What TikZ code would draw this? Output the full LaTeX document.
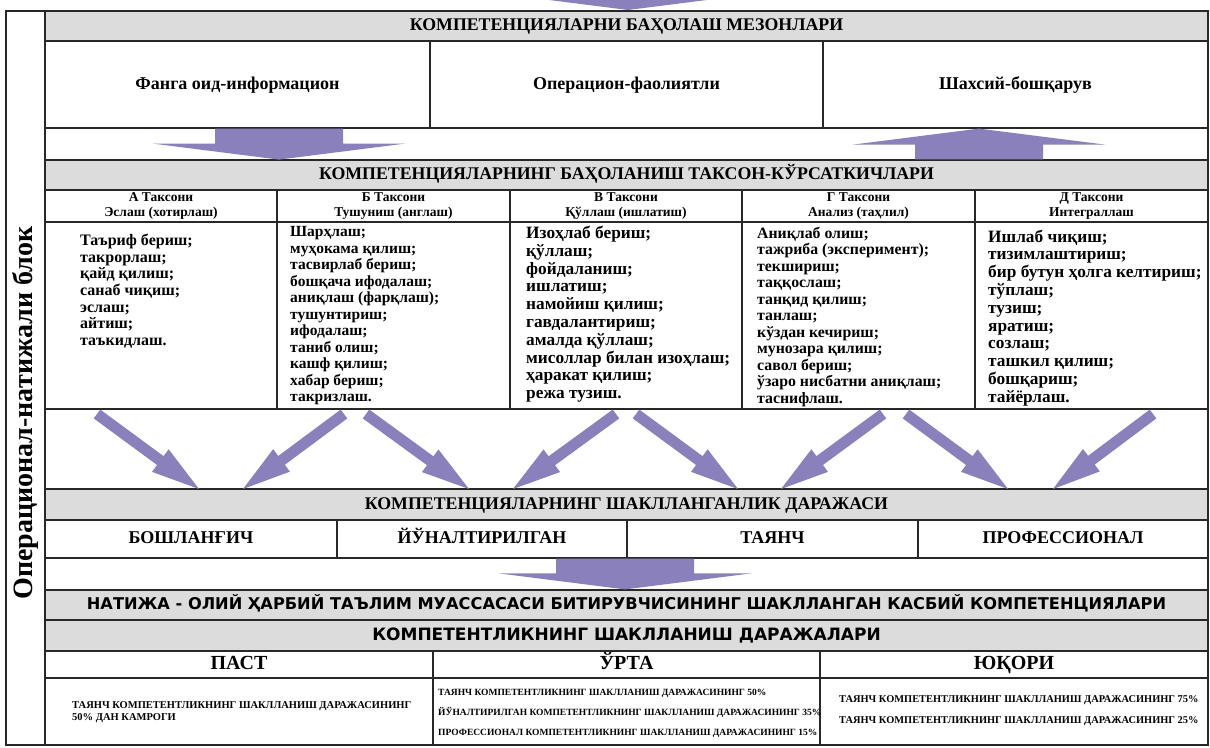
\documentclass[tikz,border=0pt]{standalone}
\usepackage{fontspec}
\setmainfont{Liberation Serif}
\newfontfamily\sansf{DejaVu Sans}
\usetikzlibrary{calc}
\definecolor{arr}{RGB}{138,128,187}
\definecolor{hdr}{RGB}{220,220,220}
\definecolor{ln}{RGB}{40,40,40}
\tikzset{
  cell/.style={draw=ln, line width=1.2pt, inner sep=0pt, outer sep=0pt, fill=white},
  graycell/.style={cell, fill=hdr},
  hfont/.style={font=\bfseries\fontsize{17.8}{20}\selectfont, text height=12.5pt, text depth=3.5pt},
  sfont/.style={font=\sansf\bfseries\fontsize{16.2}{18}\selectfont, text height=12pt, text depth=3pt},
  sfontb/.style={font=\sansf\bfseries\fontsize{17}{19}\selectfont, text height=12.5pt, text depth=3pt},
  critfont/.style={font=\bfseries\fontsize{18}{20}\selectfont, text height=12.5pt, text depth=3.5pt},
  taxfont/.style={font=\bfseries\fontsize{13.5}{14.5}\selectfont, align=center},
  lvlfont/.style={font=\bfseries\fontsize{18}{20}\selectfont, text height=12.5pt, text depth=3.5pt},
  resfont/.style={font=\bfseries\fontsize{20}{22}\selectfont, text height=14pt, text depth=4pt},
  listtxt/.style={inner sep=0pt, anchor=north west, align=left},
  smalltxt/.style={inner sep=0pt, anchor=west, align=left},
}
\newcommand\cellbox[7]{\node[#6, minimum width={#4-#2}, minimum height={#5-#3}] (#1) at ({(#2+#4)/2},{(#3+#5)/2}) {#7};}
\newcommand\fatarrow[5]{%
  \coordinate (hb) at ($(#2)!#5pt!(#1)$);
  \fill[arr] ($(#1)!#3pt!90:(#2)$) -- ($(hb)!#3pt!-90:(#1)$) -- ($(hb)!#4pt!-90:(#1)$) -- (#2)
     -- ($(hb)!#4pt!90:(#1)$) -- ($(hb)!#3pt!90:(#1)$) -- ($(#1)!#3pt!-90:(#2)$) -- cycle;}
\begin{document}
\begin{tikzpicture}[x=1pt,y=-1pt]
\clip (0,0) rectangle (1210,747);
\fill[white] (0,0) rectangle (1210,747);
% outer frame
\node[cell, minimum width=1202, minimum height=734] (outer) at (607,378) {};
\node[rotate=90, font=\bfseries\fontsize{28}{30}\selectfont] (side) at (25.5,413) {Операционал-натижали блок};
% row 1-3
\cellbox{mez}{45}{11}{1208}{41}{graycell,hfont}{КОМПЕТЕНЦИЯЛАРНИ БАҲОЛАШ МЕЗОНЛАРИ}
\cellbox{c1}{45}{41}{430}{128}{cell,critfont}{Фанга оид-информацион}
\cellbox{c2}{430}{41}{823}{128}{cell,critfont}{Операцион-фаолиятли}
\cellbox{c3}{823}{41}{1208}{128}{cell,critfont}{Шахсий-бошқарув}
\cellbox{r3}{45}{128}{1208}{160}{cell}{}
% row 4
\cellbox{tax}{45}{160}{1208}{190}{graycell,hfont}{КОМПЕТЕНЦИЯЛАРНИНГ БАҲОЛАНИШ ТАКСОН-КЎРСАТКИЧЛАРИ}
% row 5 headers
\cellbox{ta}{45}{190}{277}{222}{cell,taxfont}{А Таксони\\Эслаш (хотирлаш)}
\cellbox{tb}{277}{190}{510}{222}{cell,taxfont}{Б Таксони\\Тушуниш (англаш)}
\cellbox{tv}{510}{190}{742}{222}{cell,taxfont}{В Таксони\\Қўллаш (ишлатиш)}
\cellbox{tg}{742}{190}{975}{222}{cell,taxfont}{Г Таксони\\Анализ (таҳлил)}
\cellbox{td}{975}{190}{1208}{222}{cell,taxfont}{Д Таксони\\Интеграллаш}
% row 6 lists
\cellbox{la}{45}{222}{277}{409}{cell}{}
\cellbox{lb}{277}{222}{510}{409}{cell}{}
\cellbox{lv}{510}{222}{742}{409}{cell}{}
\cellbox{lg}{742}{222}{975}{409}{cell}{}
\cellbox{ld}{975}{222}{1208}{409}{cell}{}
\node[listtxt, font=\bfseries\fontsize{16}{16.6}\selectfont] (xa) at (80,234) {Таъриф бериш;\\такрорлаш;\\қайд қилиш;\\санаб чиқиш;\\эслаш;\\айтиш;\\таъкидлаш.};
\node[listtxt, font=\bfseries\fontsize{15.5}{16.5}\selectfont] (xb) at (290,226.5) {Шарҳлаш;\\муҳокама қилиш;\\тасвирлаб бериш;\\бошқача ифодалаш;\\аниқлаш (фарқлаш);\\тушунтириш;\\ифодалаш;\\таниб олиш;\\кашф қилиш;\\хабар бериш;\\такризлаш.};
\node[listtxt, font=\bfseries\fontsize{17.3}{17.8}\selectfont] (xv) at (526,226) {Изоҳлаб бериш;\\қўллаш;\\фойдаланиш;\\ишлатиш;\\намойиш қилиш;\\гавдалантириш;\\амалда қўллаш;\\мисоллар билан изоҳлаш;\\ҳаракат қилиш;\\режа тузиш.};
\node[listtxt, font=\bfseries\fontsize{15.8}{16.5}\selectfont] (xg) at (757,226.5) {Аниқлаб олиш;\\тажриба (эксперимент);\\текшириш;\\таққослаш;\\танқид қилиш;\\танлаш;\\кўздан кечириш;\\мунозара қилиш;\\савол бериш;\\ўзаро нисбатни аниқлаш;\\таснифлаш.};
\node[listtxt, font=\bfseries\fontsize{17.3}{17.8}\selectfont] (xd) at (988,229.5) {Ишлаб чиқиш;\\тизимлаштириш;\\бир бутун ҳолга келтириш;\\тўплаш;\\тузиш;\\яратиш;\\созлаш;\\ташкил қилиш;\\бошқариш;\\тайёрлаш.};
% row 7-10
\cellbox{r7}{45}{409}{1208}{489}{cell}{}
\cellbox{lvl}{45}{489}{1208}{520}{graycell,hfont}{КОМПЕТЕНЦИЯЛАРНИНГ ШАКЛЛАНГАНЛИК ДАРАЖАСИ}
\cellbox{l1}{45}{520}{337}{558}{cell,lvlfont}{БОШЛАНҒИЧ}
\cellbox{l2}{337}{520}{627}{558}{cell,lvlfont}{ЙЎНАЛТИРИЛГАН}
\cellbox{l3}{627}{520}{918}{558}{cell,lvlfont}{ТАЯНЧ}
\cellbox{l4}{918}{520}{1208}{558}{cell,lvlfont}{ПРОФЕССИОНАЛ}
\cellbox{r10}{45}{558}{1208}{590}{cell}{}
% rows 11-14
\cellbox{nat}{45}{590}{1208}{620}{graycell,sfont}{НАТИЖА - ОЛИЙ ҲАРБИЙ ТАЪЛИМ МУАССАСАСИ БИТИРУВЧИСИНИНГ ШАКЛЛАНГАН КАСБИЙ КОМПЕТЕНЦИЯЛАРИ}
\cellbox{kd}{45}{620}{1208}{651}{graycell,sfontb}{КОМПЕТЕНТЛИКНИНГ ШАКЛЛАНИШ ДАРАЖАЛАРИ}
\cellbox{p1}{45}{651}{433}{678}{cell,resfont}{ПАСТ}
\cellbox{p2}{433}{651}{820}{678}{cell,resfont}{ЎРТА}
\cellbox{p3}{820}{651}{1208}{678}{cell,resfont}{ЮҚОРИ}
\cellbox{q1}{45}{678}{433}{745}{cell}{}
\cellbox{q2}{433}{678}{820}{745}{cell}{}
\cellbox{q3}{820}{678}{1208}{745}{cell}{}
\node[smalltxt, font=\bfseries\fontsize{10.5}{12}\selectfont] (s1) at (72,712) {ТАЯНЧ КОМПЕТЕНТЛИКНИНГ ШАКЛЛАНИШ ДАРАЖАСИНИНГ\\50\% ДАН КАМРОГИ};
\node[smalltxt, font=\bfseries\fontsize{9.5}{20}\selectfont] (s2) at (438,713) {ТАЯНЧ КОМПЕТЕНТЛИКНИНГ ШАКЛЛАНИШ ДАРАЖАСИНИНГ 50\%\\ЙЎНАЛТИРИЛГАН  КОМПЕТЕНТЛИКНИНГ ШАКЛЛАНИШ ДАРАЖАСИНИНГ 35\%\\ПРОФЕССИОНАЛ КОМПЕТЕНТЛИКНИНГ ШАКЛЛАНИШ ДАРАЖАСИНИНГ 15\%};
\node[smalltxt, font=\bfseries\fontsize{10.4}{21}\selectfont] (s3) at (839,711) {ТАЯНЧ КОМПЕТЕНТЛИКНИНГ ШАКЛЛАНИШ ДАРАЖАСИНИНГ 75\%\\ТАЯНЧ КОМПЕТЕНТЛИКНИНГ ШАКЛЛАНИШ ДАРАЖАСИНИНГ 25\%};
% big flat arrows
\coordinate (t0) at (628,-30); \coordinate (h0) at (628,10);
\fatarrow{t0}{h0}{64}{126}{16}
\coordinate (t1) at (279,128.6); \coordinate (h1) at (279,159.6);
\fatarrow{t1}{h1}{64}{126}{16}
\coordinate (t2) at (979,159.4); \coordinate (h2) at (979,128.6);
\fatarrow{t2}{h2}{64}{126}{16}
\coordinate (t3) at (625,558.6); \coordinate (h3) at (625,589.4);
\fatarrow{t3}{h3}{69}{126}{16}
% diagonal arrows
\coordinate (d1t) at (97,414);   \coordinate (d1h) at (199,489);
\coordinate (d2t) at (344,414);  \coordinate (d2h) at (243,489);
\coordinate (d3t) at (366,414);  \coordinate (d3h) at (469,489);
\coordinate (d4t) at (616,414);  \coordinate (d4h) at (513,489);
\coordinate (d5t) at (636,414);  \coordinate (d5h) at (738,489);
\coordinate (d6t) at (883,414);  \coordinate (d6h) at (781,489);
\coordinate (d7t) at (906,414);  \coordinate (d7h) at (1008,489);
\coordinate (d8t) at (1153,414); \coordinate (d8h) at (1053,489);
\foreach \i in {1,...,8}{\fatarrow{d\i t}{d\i h}{5.5}{14}{48}}
\end{tikzpicture}
\end{document}
